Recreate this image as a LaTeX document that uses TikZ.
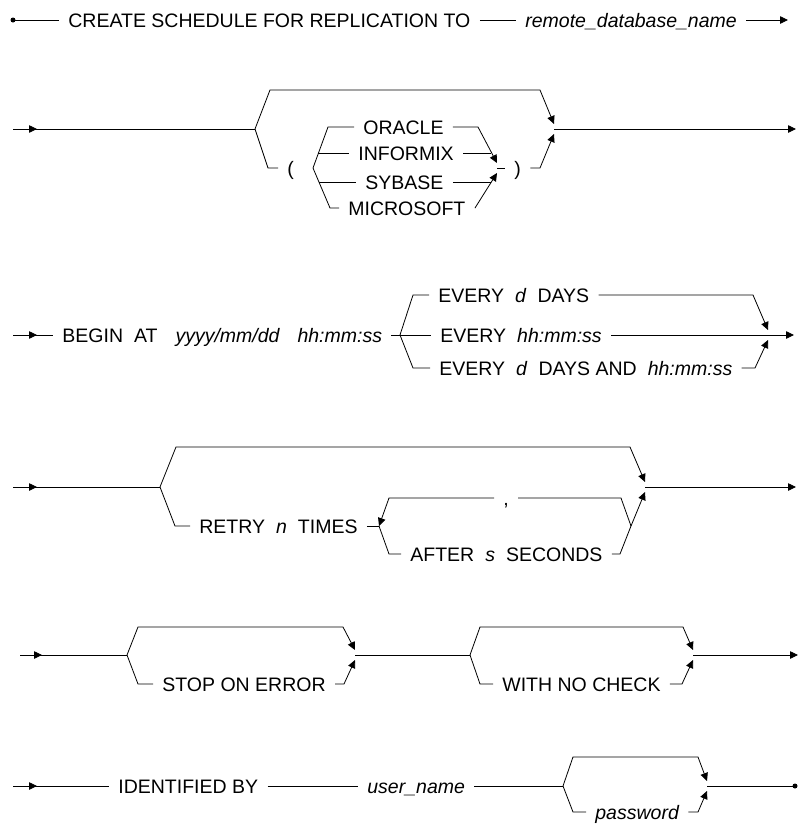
\documentclass[tikz,border=0pt]{standalone}
\usepackage{fontspec}
\setmainfont{Liberation Sans}
\usetikzlibrary{arrows.meta}
\tikzset{
  rail/.style={line width=0.8pt},
  kw/.style={anchor=west, inner xsep=9pt, inner ysep=0pt, text height=14pt, text depth=0pt},
}
\newcommand{\wgap}{\hspace{11pt}}
\begin{document}
\begin{tikzpicture}[x=1pt,y=-1pt,font=\fontsize{19.5}{23}\selectfont,>={Triangle[length=8pt,width=7.5pt]},rail]
  \useasboundingbox (0,0) rectangle (799,825);
  % CREATE SCHEDULE
  \coordinate (s1) at (13,20);
  \node[kw] (create) at (59,20) {CREATE SCHEDULE FOR REPLICATION TO};
  \node[kw] (rdb) at (516,20) {\itshape remote\_database\_name};
  \coordinate (e1) at (788,20);
  \fill (s1) circle (2.5);
  \draw (s1) -- (create);
  \draw (create) -- (rdb);
  \draw[->] (rdb) -- (e1);
  % database type
  \coordinate (s2) at (13,129);
  \coordinate (j2) at (255,129);
  \coordinate (k2) at (554,129);
  \coordinate (e2) at (796,129);
  \draw (s2) -- (j2);
  \draw[->] (s2) -- ++(24,0);
  \draw[->] (j2) -- (270,90) -- (540,90) -- ([yshift=5pt]k2);
  \node[kw] (lp) at (278,168) {(};
  \draw (j2) -- (268,168) -- (lp);
  \coordinate (v1) at (313,168);
  \coordinate (v2) at (497,168);
  \node[kw] (ora) at (354,127) {ORACLE};
  \node[kw] (inf) at (349,153) {INFORMIX};
  \node[kw] (syb) at (356,182) {SYBASE};
  \node[kw] (mic) at (339,208) {MICROSOFT};
  \draw (ora) -- (328,127) -- (v1) -- (330,208) -- (mic);
  \draw (318,153) -- (inf);
  \draw (319,182) -- (syb);
  \draw[->] (ora) -- (478,127) -- ([yshift=5pt]v2);
  \draw[->] (mic) -- (475,208) -- ([yshift=-5pt]v2);
  \draw (inf) -- (491,153);
  \draw (syb) -- (491,182);
  \node[kw] (rp) at (505,168) {)};
  \draw (v2) -- (rp);
  \draw[->] (rp) -- (540,168) -- ([yshift=-5pt]k2);
  \draw[->] (k2) -- (e2);
  % BEGIN AT
  \coordinate (s3) at (13,335);
  \node[kw] (begin) at (53,335) {BEGIN\wgap AT\hspace{18pt}\textit{yyyy/mm/dd\hspace{18pt}hh:mm:ss}};
  \coordinate (j3) at (400,335);
  \coordinate (k3) at (768,335);
  \coordinate (e3) at (794,335);
  \draw (s3) -- (begin);
  \draw[->] (s3) -- ++(24,0);
  \draw (begin) -- (j3);
  \node[kw] (ev1) at (429,295) {EVERY\wgap\textit{d}\wgap DAYS};
  \node[kw] (ev2) at (431,335) {EVERY\wgap\textit{hh:mm:ss}};
  \node[kw] (ev3) at (430,368) {EVERY\wgap\textit{d}\wgap DAYS AND\wgap\textit{hh:mm:ss}};
  \draw (j3) -- (413,295) -- (ev1);
  \draw (j3) -- (ev2);
  \draw (j3) -- (413,368) -- (ev3);
  \draw[->] (ev1) -- (753,295) -- ([yshift=5pt]k3);
  \draw[->] (ev2) -- (e3);
  \draw[->] (ev3) -- (755,368) -- ([yshift=-5pt]k3);
  % RETRY
  \coordinate (s4) at (13,487);
  \coordinate (j4) at (160,487);
  \coordinate (k4) at (645,487);
  \coordinate (e4) at (796,487);
  \draw (s4) -- (j4);
  \draw[->] (s4) -- ++(24,0);
  \draw[->] (j4) -- (176,447) -- (630,447) -- ([yshift=5pt]k4);
  \node[kw] (retry) at (190,526) {RETRY\wgap\textit{n}\wgap TIMES};
  \draw (j4) -- (175,526) -- (retry);
  \coordinate (lj) at (379,526);
  \coordinate (lk) at (631,526);
  \node[kw] (comma) at (494,498) {,};
  \node[kw] (after) at (401,554) {AFTER\wgap\textit{s}\wgap SECONDS};
  \draw (retry) -- (lj);
  \draw (lk) -- (621,498) -- (comma);
  \draw[->] (comma) -- (389,498) -- (lj);
  \draw (lj) -- (389,554) -- (after);
  \draw (after) -- (620,554) -- (lk);
  \draw[->] (lk) -- ([yshift=-5pt]k4);
  \draw[->] (k4) -- (e4);
  % STOP ON ERROR / WITH NO CHECK
  \coordinate (s5) at (20,655);
  \coordinate (j5) at (127,655);
  \coordinate (k5) at (355,655);
  \coordinate (j6) at (470,655);
  \coordinate (k6) at (693,655);
  \coordinate (e5) at (798,655);
  \draw (s5) -- (j5);
  \draw[->] (s5) -- ++(22,0);
  \draw[->] (j5) -- (138,627) -- (343,627) -- ([yshift=5pt]k5);
  \node[kw] (stop) at (153,684) {STOP ON ERROR};
  \draw (j5) -- (138,684) -- (stop);
  \draw[->] (stop) -- (344,684) -- ([yshift=-5pt]k5);
  \draw (k5) -- (j6);
  \draw[->] (j6) -- (480,627) -- (683,627) -- ([yshift=5pt]k6);
  \node[kw] (check) at (493,684) {WITH NO CHECK};
  \draw (j6) -- (480,684) -- (check);
  \draw[->] (check) -- (682,684) -- ([yshift=-5pt]k6);
  \draw[->] (k6) -- (e5);
  % IDENTIFIED BY
  \coordinate (s6) at (13,786);
  \node[kw] (ident) at (109,786) {IDENTIFIED BY};
  \node[kw] (user) at (358,786) {\itshape user\_name};
  \coordinate (j7) at (563,786);
  \coordinate (k7) at (707,786);
  \coordinate (e6) at (795,786);
  \draw (s6) -- (ident);
  \draw[->] (s6) -- ++(24,0);
  \draw (ident) -- (user);
  \draw (user) -- (j7);
  \draw[->] (j7) -- (573,757) -- (698,757) -- ([yshift=5pt]k7);
  \node[kw] (pw) at (586,812) {\itshape password};
  \draw (j7) -- (573,812) -- (pw);
  \draw[->] (pw) -- (698,812) -- ([yshift=-5pt]k7);
  \draw (k7) -- (e6);
  \fill (e6) circle (2.5);
\end{tikzpicture}
\end{document}
